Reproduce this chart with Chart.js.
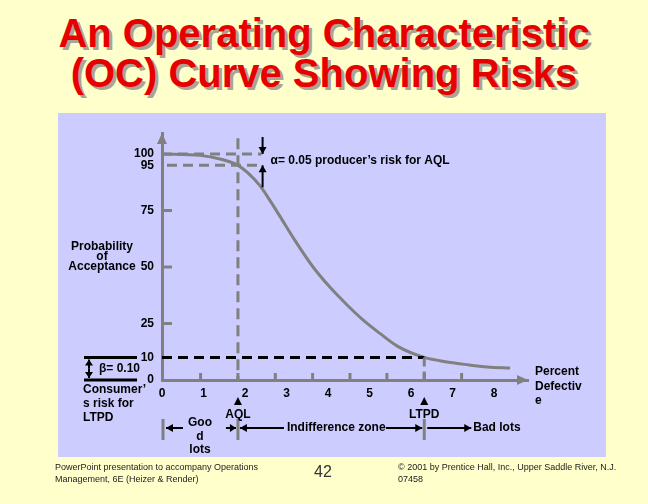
<!DOCTYPE html>
<html><head><meta charset="utf-8">
<script src="https://cdn.jsdelivr.net/npm/chart.js@4.4.1/dist/chart.umd.min.js"></script>
<style>
html,body{margin:0;padding:0;}
body{width:648px;height:504px;background:#FFFFCC;position:relative;overflow:hidden;font-family:"Liberation Sans",Arial,sans-serif;}
#panel{position:absolute;left:58px;top:113px;width:548px;height:344px;background:#CCCCFF;}
#title{position:absolute;left:0;top:13px;width:648px;text-align:center;color:#E60000;font-weight:bold;font-size:40px;line-height:40px;text-shadow:3px 3px 0 #ABA393;white-space:nowrap;}
#wrap{position:absolute;left:0;top:0;width:648px;height:504px;}
.foot{position:absolute;font-size:9px;line-height:12px;color:#222;white-space:nowrap;}
</style></head>
<body>
<div id="panel"></div>
<div id="title">An Operating Characteristic<br>(OC) Curve Showing Risks</div>
<div id="wrap"><canvas id="c" width="648" height="504"></canvas></div>
<div class="foot" style="left:55px;top:461px;">PowerPoint presentation to accompany Operations<br>Management, 6E (Heizer &amp; Render)</div>
<div style="position:absolute;left:299px;top:462px;width:48px;text-align:center;font-size:16px;line-height:20px;color:#333;">42</div>
<div class="foot" style="left:398px;top:461px;">© 2001 by Prentice Hall, Inc., Upper Saddle River, N.J.<br>07458</div>
<script>
// ---- data ----
const pctDefective   = [0, 0.92, 1.40, 1.83, 2.05, 2.36, 2.60, 2.84, 3.16, 3.64, 4.05, 4.46, 4.85, 5.26, 5.67, 6.32, 6.87, 7.35, 7.84, 8.39];
const probAcceptance = [100, 99.4, 97.8, 95.0, 92.0, 86.0, 79.5, 72.5, 63.0, 50.0, 41.0, 33.2, 26.5, 20.5, 15.0, 10.0, 8.0, 6.8, 5.8, 5.3];
const xTickValues = [0, 1, 2, 3, 4, 5, 6, 7, 8];
const yTickValues = [0, 10, 25, 50, 75, 95, 100];
const xMinorTicks = [0.93, 1.83, 2.73, 3.63, 4.53, 5.42, 6.32, 7.22];
const yMinorTicks = [25, 50, 75];
const aql = 1.83;        // acceptable quality level (% defective)
const ltpd = 6.32;       // lot tolerance percent defective
const alpha = 0.05;      // producer's risk
const beta = 0.10;       // consumer's risk
const alphaLineEnd = 2.4;
const aqlLineTop = 107;

const GRAY = '#808080';
const FONT = 'bold 12px "Liberation Sans", Arial, sans-serif';

function seg(x0, y0, x1, y1) { return [{x: x0, y: y0}, {x: x1, y: y1}]; }

const curve = pctDefective.map((x, i) => ({x, y: probAcceptance[i]}));
const pA = 100, pB = 100 * (1 - alpha), pC = 100 * beta;

const datasets = [
  {data: seg(0, pA, alphaLineEnd, pA), borderColor: GRAY, borderWidth: 3, borderDash: [10, 6]},
  {data: seg(0.12, pB, alphaLineEnd, pB), borderColor: GRAY, borderWidth: 3, borderDash: [10, 6]},
  {data: seg(aql, aqlLineTop, aql, 0), borderColor: GRAY, borderWidth: 3, borderDash: [11, 6]},
  {data: seg(ltpd, pC, ltpd, 0), borderColor: GRAY, borderWidth: 3, borderDash: [9, 5]},
  {data: seg(0, pC, ltpd, pC), borderColor: '#000', borderWidth: 3, borderDash: [10, 6]},
  {data: curve, borderColor: GRAY, borderWidth: 3, cubicInterpolationMode: 'monotone'}
].map(d => Object.assign({pointRadius: 0, fill: false}, d));

function arrow(ctx, x0, y0, x1, y1, head) {
  ctx.beginPath(); ctx.moveTo(x0, y0); ctx.lineTo(x1, y1); ctx.stroke();
  const a = Math.atan2(y1 - y0, x1 - x0), h = head || 7, w = 4;
  ctx.beginPath();
  ctx.moveTo(x1, y1);
  ctx.lineTo(x1 - h * Math.cos(a) + w * Math.sin(a), y1 - h * Math.sin(a) - w * Math.cos(a));
  ctx.lineTo(x1 - h * Math.cos(a) - w * Math.sin(a), y1 - h * Math.sin(a) + w * Math.cos(a));
  ctx.closePath(); ctx.fill();
}

const annot = {
  id: 'annot',
  afterDraw(chart) {
    const ctx = chart.ctx, xs = chart.scales.x, ys = chart.scales.y, ca = chart.chartArea;
    ctx.save();
    // axis arrowheads
    ctx.fillStyle = GRAY;
    ctx.beginPath(); ctx.moveTo(ca.left, ca.top); ctx.lineTo(ca.left - 5, ca.top + 11); ctx.lineTo(ca.left + 5, ca.top + 11); ctx.closePath(); ctx.fill();
    ctx.beginPath(); ctx.moveTo(ca.right, ca.bottom); ctx.lineTo(ca.right - 11, ca.bottom - 5); ctx.lineTo(ca.right - 11, ca.bottom + 5); ctx.closePath(); ctx.fill();
    // minor ticks
    ctx.strokeStyle = GRAY; ctx.lineWidth = 3;
    yMinorTicks.forEach(v => { const y = ys.getPixelForValue(v); ctx.beginPath(); ctx.moveTo(ca.left, y); ctx.lineTo(ca.left + 10, y); ctx.stroke(); });
    xMinorTicks.forEach(v => { const x = xs.getPixelForValue(v); ctx.beginPath(); ctx.moveTo(x, ca.bottom - 7); ctx.lineTo(x, ca.bottom); ctx.stroke(); });
    // zone boundary markers below axis
    [0, aql, ltpd].forEach(v => { const x = xs.getPixelForValue(v) + (v === 0 ? 1 : 0); ctx.beginPath(); ctx.moveTo(x, ca.bottom + 39); ctx.lineTo(x, ca.bottom + 60); ctx.stroke(); });

    ctx.fillStyle = '#000'; ctx.strokeStyle = '#000'; ctx.lineWidth = 2;
    ctx.font = FONT; ctx.textBaseline = 'middle';
    // alpha arrows + text
    const ax = xs.getPixelForValue(alphaLineEnd) + 1, y100 = ys.getPixelForValue(pA), y95 = ys.getPixelForValue(pB);
    arrow(ctx, ax, y100 - 17, ax, y100, 7);
    arrow(ctx, ax, y95 + 22, ax, y95, 7);
    ctx.textAlign = 'left';
    ctx.fillText('\u03B1= ' + alpha.toFixed(2) + ' producer\u2019s risk for AQL', ax + 8, (y100 + y95) / 2 + 1);
    // beta bracket
    const y10 = ys.getPixelForValue(pC), y0 = ys.getPixelForValue(0);
    ctx.lineWidth = 3;
    ctx.beginPath(); ctx.moveTo(84, y10); ctx.lineTo(137, y10); ctx.stroke();
    ctx.beginPath(); ctx.moveTo(84, y0); ctx.lineTo(137, y0); ctx.stroke();
    ctx.lineWidth = 2;
    arrow(ctx, 89, (y10 + y0) / 2, 89, y10 + 2, 6);
    arrow(ctx, 89, (y10 + y0) / 2, 89, y0 - 2, 6);
    ctx.fillText('\u03B2= ' + beta.toFixed(2), 99, (y10 + y0) / 2);
    ctx.fillText('Consumer\u2019', 83, 390);
    ctx.fillText('s risk for', 83, 404);
    ctx.fillText('LTPD', 83, 418);
    // y axis title
    ctx.textAlign = 'center';
    ctx.fillText('Probability', 102, 247);
    ctx.fillText('of', 102, 257);
    ctx.fillText('Acceptance', 102, 267);
    // AQL / LTPD markers
    [[aql, 'AQL'], [ltpd, 'LTPD']].forEach(([v, t]) => {
      const x = xs.getPixelForValue(v);
      ctx.beginPath(); ctx.moveTo(x, ca.bottom + 17); ctx.lineTo(x - 4, ca.bottom + 25); ctx.lineTo(x + 4, ca.bottom + 25); ctx.closePath(); ctx.fill();
      ctx.fillText(t, x, ca.bottom + 35);
    });
    // zone arrows
    const xg = xs.getPixelForValue(0), xa = xs.getPixelForValue(aql), xl = xs.getPixelForValue(ltpd), ya = ca.bottom + 48;
    arrow(ctx, xg + 21, ya, xg + 4, ya, 7);
    arrow(ctx, xa - 12, ya, xa - 2, ya, 6);
    arrow(ctx, xa + 46, ya, xa + 2, ya, 7);
    arrow(ctx, xa + 148, ya, xl - 2, ya, 7);
    arrow(ctx, xl + 3, ya, xl + 47, ya, 7);
    ctx.fillText('Goo', (xg + xa) / 2, ca.bottom + 43);
    ctx.fillText('d', (xg + xa) / 2, ca.bottom + 57);
    ctx.fillText('lots', (xg + xa) / 2, ca.bottom + 70);
    ctx.textAlign = 'left';
    ctx.fillText('Indifference zone', xa + 49, ya);
    ctx.fillText('Bad lots', xl + 49, ya);
    // x axis title
    ctx.fillText('Percent', ca.right + 7, 372);
    ctx.fillText('Defectiv', ca.right + 7, 387);
    ctx.fillText('e', ca.right + 7, 401);
    ctx.restore();
  }
};

new Chart(document.getElementById('c'), {
  type: 'line',
  data: {datasets},
  options: {
    responsive: false,
    animation: false,
    layout: {padding: {left: 0, right: 120, top: 133, bottom: 0}},
    plugins: {legend: {display: false}, tooltip: {enabled: false}, title: {display: false}},
    scales: {
      x: {
        type: 'linear', min: 0, max: 8.82,
        afterBuildTicks: s => { s.ticks = xTickValues.map(v => ({value: v})); },
        afterFit: s => { s.height = 124; },
        grid: {display: false, drawTicks: false},
        border: {display: true, color: GRAY, width: 3},
        ticks: {color: '#000', font: {family: '"Liberation Sans", Arial, sans-serif', size: 12, weight: 'bold'}, padding: 6, autoSkip: false, maxRotation: 0, callback: v => String(v)}
      },
      y: {
        type: 'linear', min: 0, max: 109.3,
        afterBuildTicks: s => { s.ticks = yTickValues.map(v => ({value: v})); },
        afterFit: s => { s.width = 162; },
        grid: {display: false, drawTicks: false},
        border: {display: true, color: GRAY, width: 3},
        ticks: {color: '#000', font: {family: '"Liberation Sans", Arial, sans-serif', size: 12, weight: 'bold'}, padding: 8, autoSkip: false, callback: v => String(v)}
      }
    }
  },
  plugins: [annot]
});
</script>
</body></html>
